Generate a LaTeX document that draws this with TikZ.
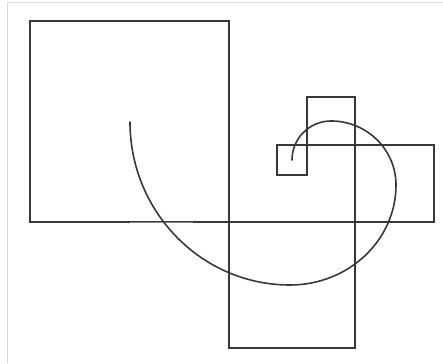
\documentclass[tikz,border=0pt]{standalone}
\usepackage{tikz}
\usetikzlibrary{calc}
\definecolor{inkcolor}{rgb}{0.22,0.22,0.22}
\definecolor{framecolor}{rgb}{0.85,0.85,0.85}
\tikzset{
    sqbox/.style    = {draw=inkcolor, line width=1.5pt, line join=miter},
    spiral/.style   = {draw=inkcolor, line width=1.6pt, line cap=round},
    framelne/.style = {draw=framecolor, line width=0.9pt},
}
\begin{document}
\begin{tikzpicture}[x=1pt, y=1pt]

\useasboundingbox (0,0) rectangle (443,363);

% screenshot frame
\draw[framelne] (7,0) -- (7,361) -- (443,361);

% squares
\draw[sqbox] (30,141) rectangle (229,342);
\draw[sqbox] (229,15) rectangle (355,141);
\draw[sqbox] (355,141) rectangle (434,218);
\draw[sqbox] (307,218) rectangle (355,266);
\draw[sqbox] (277,188) rectangle (307,218);
\draw[draw=inkcolor!60, line width=0.8pt] (130,140.2) -- (193,140.2);

% spiral
\draw[spiral] (130,241)
    arc[start angle=180, end angle=270, x radius=160, y radius=163]
    arc[start angle=270, end angle=360, x radius=106, y radius=100]
    arc[start angle=0,   end angle=90,  x radius=65,  y radius=64]
    arc[start angle=90,  end angle=180, x radius=39,  y radius=39];

\end{tikzpicture}
\end{document}
